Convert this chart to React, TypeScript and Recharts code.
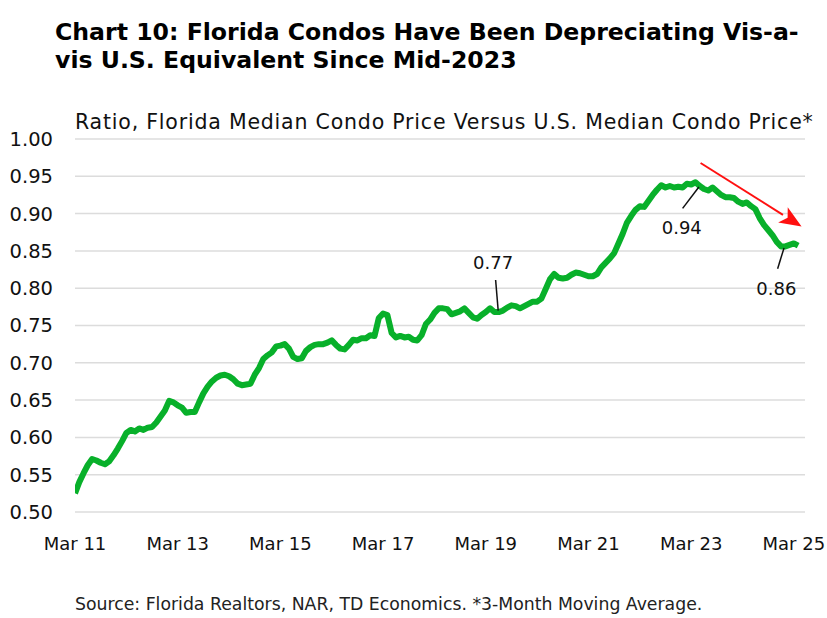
import React from 'react';
import { LineChart, Line, XAxis, YAxis, CartesianGrid, ReferenceLine, ReferenceDot } from 'recharts';

// monthly, Mar 2011 .. Apr 2025 (3-month moving average)
const ratio2011 = [0.525, 0.540, 0.552, 0.563, 0.571, 0.569, 0.566, 0.564, 0.568, 0.576];
const ratio2012 = [0.585, 0.595, 0.606, 0.610, 0.608, 0.612, 0.610, 0.613, 0.614, 0.620, 0.628, 0.636];
const ratio2013 = [0.649, 0.647, 0.643, 0.640, 0.633, 0.634, 0.634, 0.647, 0.659, 0.668, 0.675, 0.680];
const ratio2014 = [0.683, 0.684, 0.682, 0.678, 0.672, 0.670, 0.671, 0.672, 0.684, 0.693, 0.705, 0.710];
const ratio2015 = [0.714, 0.722, 0.723, 0.725, 0.719, 0.708, 0.705, 0.706, 0.716, 0.721, 0.724, 0.725];
const ratio2016 = [0.725, 0.727, 0.730, 0.724, 0.719, 0.718, 0.724, 0.731, 0.730, 0.733, 0.733, 0.737];
const ratio2017 = [0.736, 0.760, 0.766, 0.764, 0.740, 0.734, 0.736, 0.734, 0.735, 0.731, 0.730, 0.737];
const ratio2018 = [0.752, 0.758, 0.767, 0.773, 0.773, 0.772, 0.765, 0.767, 0.769, 0.773, 0.767, 0.761];
const ratio2019 = [0.759, 0.764, 0.768, 0.773, 0.768, 0.768, 0.770, 0.774, 0.777, 0.776, 0.773, 0.776];
const ratio2020 = [0.779, 0.782, 0.782, 0.786, 0.799, 0.812, 0.819, 0.814, 0.813, 0.814, 0.818, 0.821];
const ratio2021 = [0.820, 0.818, 0.816, 0.816, 0.819, 0.828, 0.834, 0.840, 0.847, 0.860, 0.873, 0.888];
const ratio2022 = [0.897, 0.905, 0.910, 0.909, 0.917, 0.925, 0.932, 0.938, 0.935, 0.937, 0.935, 0.936];
const ratio2023 = [0.935, 0.940, 0.939, 0.942, 0.937, 0.933, 0.931, 0.935, 0.930, 0.925, 0.922, 0.922];
const ratio2024 = [0.921, 0.916, 0.913, 0.915, 0.910, 0.906, 0.894, 0.885, 0.878, 0.871, 0.862, 0.856];
const ratio2025 = [0.856, 0.858, 0.860, 0.857];

const ratios = [
  ...ratio2011, ...ratio2012, ...ratio2013, ...ratio2014, ...ratio2015,
  ...ratio2016, ...ratio2017, ...ratio2018, ...ratio2019, ...ratio2020,
  ...ratio2021, ...ratio2022, ...ratio2023, ...ratio2024, ...ratio2025,
];

const xTicks = [0, 24, 48, 72, 96, 120, 144, 168];
const xTickLabels = ['Mar 11', 'Mar 13', 'Mar 15', 'Mar 17', 'Mar 19', 'Mar 21', 'Mar 23', 'Mar 25'];
const yTicks = [0.5, 0.55, 0.6, 0.65, 0.7, 0.75, 0.8, 0.85, 0.9, 0.95, 1.0];

const data = ratios.map((v, i) => ({ m: i, ratio: v }));

const FONT = '"DejaVu Sans", "Noto Sans", sans-serif';
const GREEN = '#08b02a';

const labelShape = (text: string) => (p: any) => (
  <text x={p.cx} y={p.cy} textAnchor="middle" dominantBaseline="central" fontSize={18} fontFamily={FONT} fill="#111">
    {text}
  </text>
);

const arrowShape = (p: any) => {
  const { x1, y1, x2, y2 } = p;
  const a = Math.atan2(y2 - y1, x2 - x1);
  const len = 22;
  const w = 9;
  const bx = x2 - len * Math.cos(a);
  const by = y2 - len * Math.sin(a);
  const px = -Math.sin(a) * w;
  const py = Math.cos(a) * w;
  return (
    <g>
      <line x1={x1} y1={y1} x2={bx} y2={by} stroke="#ff1010" strokeWidth={2} />
      <polygon points={`${x2},${y2} ${bx + px},${by + py} ${bx + len * 0.25 * Math.cos(a)},${by + len * 0.25 * Math.sin(a)} ${bx - px},${by - py}`} fill="#ff1010" />
    </g>
  );
};

export default function App() {
  return (
    <div style={{ position: 'absolute', left: 0, top: 0, width: 827, height: 618, background: '#fff', fontFamily: FONT }}>
      <div style={{ position: 'absolute', left: 0, top: 0 }}>
        <LineChart width={827} height={618} data={data} margin={{ top: 139, right: 22, bottom: 76, left: 15 }}>
          <CartesianGrid vertical={false} stroke="#dcdcdc" strokeWidth={1.5} />
          <XAxis
            dataKey="m"
            type="number"
            domain={[0, 170.6]}
            ticks={xTicks}
            tickFormatter={(v: number) => xTickLabels[xTicks.indexOf(v)]}
            axisLine={false}
            tickLine={false}
            tickSize={0}
            tickMargin={25}
            height={30}
            tick={{ fontSize: 18, fill: '#111', fontFamily: FONT }}
            interval={0}
            allowDataOverflow
          />
          <YAxis
            type="number"
            domain={[0.5, 1.0]}
            ticks={yTicks}
            tickFormatter={(v: number) => v.toFixed(2)}
            axisLine={false}
            tickLine={false}
            tickSize={0}
            tickMargin={22}
            width={60}
            tick={{ fontSize: 19.5, fill: '#111', fontFamily: FONT }}
            interval={0}
          />
          <Line type="linear" dataKey="ratio" stroke={GREEN} strokeWidth={6} dot={false} isAnimationActive={false} strokeLinejoin="round" />
          <ReferenceLine segment={[{ x: 98.3, y: 0.811 }, { x: 98.9, y: 0.770 }]} stroke="#111" strokeWidth={1.5} />
          <ReferenceLine segment={[{ x: 142.0, y: 0.907 }, { x: 145.8, y: 0.9356 }]} stroke="#111" strokeWidth={1.5} />
          <ReferenceLine segment={[{ x: 164.2, y: 0.826 }, { x: 165.7, y: 0.854 }]} stroke="#111" strokeWidth={1.5} />
          <ReferenceLine segment={[{ x: 146.2, y: 0.9678 }, { x: 169.8, y: 0.8827 }]} shape={arrowShape} />
          <ReferenceDot x={97.7} y={0.834} r={0} shape={labelShape('0.77')} />
          <ReferenceDot x={141.8} y={0.881} r={0} shape={labelShape('0.94')} />
          <ReferenceDot x={163.9} y={0.8} r={0} shape={labelShape('0.86')} />
        </LineChart>
      </div>
      <div style={{ position: 'absolute', left: 55, top: 18, fontSize: 23.6, fontWeight: 700, lineHeight: '28px', color: '#000', whiteSpace: 'nowrap' }}>
        Chart 10: Florida Condos Have Been Depreciating Vis-a-
        <br />
        vis U.S. Equivalent Since Mid-2023
      </div>
      <div style={{ position: 'absolute', left: 75, top: 110, fontSize: 20.5, letterSpacing: 0.8, color: '#111', whiteSpace: 'nowrap' }}>
        Ratio, Florida Median Condo Price Versus U.S. Median Condo Price*
      </div>
      <div style={{ position: 'absolute', left: 75, top: 594, fontSize: 17.3, color: '#222', whiteSpace: 'nowrap' }}>
        Source: Florida Realtors, NAR, TD Economics. *3-Month Moving Average.
      </div>
    </div>
  );
}
